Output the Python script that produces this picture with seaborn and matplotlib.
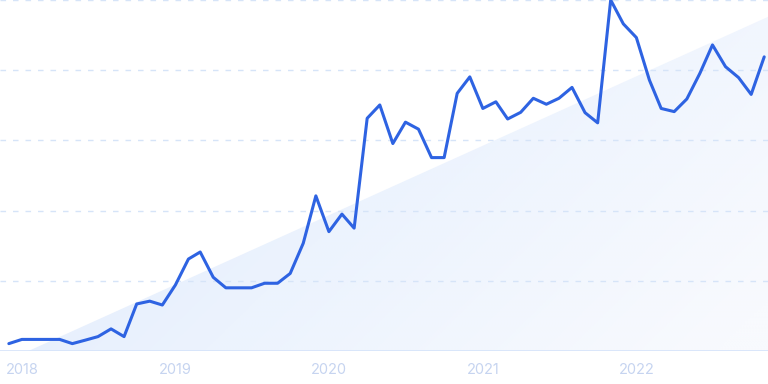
import numpy as np
import pandas as pd
import matplotlib
matplotlib.use("Agg")
import matplotlib.pyplot as plt
from matplotlib.patches import Polygon
from matplotlib.colors import LinearSegmentedColormap
import seaborn as sns

start_month = "2017-12-01"
values = [2.1, 3.3, 3.3, 3.3, 3.3, 2.1, 3.1, 4.1, 6.3, 4.1,
          13.4, 14.2, 13.1, 18.8, 26.2, 28.2, 21.0, 18.0, 18.0, 18.0,
          19.3, 19.3, 22.1, 30.7, 44.2, 34.0, 39.0, 35.0, 66.3, 70.1,
          59.1, 65.2, 63.2, 55.1, 55.1, 73.4, 78.1, 69.1, 71.0, 66.1,
          68.0, 72.0, 70.3, 72.0, 75.1, 67.9, 65.0, 100.0, 93.2, 89.3,
          77.2, 69.1, 68.2, 71.8, 79.1, 87.2, 81.0, 77.9, 73.1, 83.8]
year_labels = ["2018", "2019", "2020", "2021", "2022"]
grid_levels = [20, 40, 60, 80, 100]

dates = pd.date_range(start_month, periods=len(values), freq="MS")
df = pd.DataFrame({"date": dates, "value": values})

sns.set_theme(style="white")
plt.rcParams["font.family"] = ["Inter", "DejaVu Sans"]

fig = plt.figure(figsize=(7.68, 3.84), dpi=100)
ax = fig.add_axes([0, 33 / 384, 1, 351 / 384])

# gradient triangle background (decorative, axes coordinates)
cmap = LinearSegmentedColormap.from_list("bg", ["#dfeafc", "#ecf3fe", "#f8fafe"])
xx, yy = np.meshgrid(np.linspace(0, 1, 256), np.linspace(0, 1, 256))
grad = np.clip(0.75 * xx + 0.35 * yy - 0.05, 0, 1)
im = ax.imshow(grad, extent=[0, 1, 0, 1], transform=ax.transAxes, cmap=cmap,
               aspect="auto", zorder=0, interpolation="bicubic", origin="upper")
tri = Polygon([[0.037, 0.0], [1.0, 0.952], [1.0, 0.0]], closed=True,
              transform=ax.transAxes, facecolor="none", edgecolor="none")
ax.add_patch(tri)
im.set_clip_path(tri)

for g in grid_levels:
    ax.axhline(g, color="#d6e4f8", lw=1.0, ls=(0, (4, 5)), zorder=1)
ax.axhline(0, color="#d5e3fa", lw=1.2, zorder=1)

sns.lineplot(data=df, x="date", y="value", ax=ax, color="#2e63e2",
             linewidth=2.2, zorder=3, clip_on=False)

ax.set_ylim(0, 100)
ax.set_xlim(dates[0] - pd.Timedelta(days=21), dates[-1] + pd.Timedelta(days=9))
ticks = [pd.Timestamp(f"{y}-01-01") for y in year_labels]
ax.set_xticks(ticks)
ax.set_xticklabels(year_labels)
ax.tick_params(axis="x", colors="#c6d4f0", labelsize=10.5, length=0, pad=9)
ax.set_yticks([])
ax.set_xlabel("")
ax.set_ylabel("")
for s in ax.spines.values():
    s.set_visible(False)
ax.grid(False)

fig.savefig("out.png", dpi=100)
